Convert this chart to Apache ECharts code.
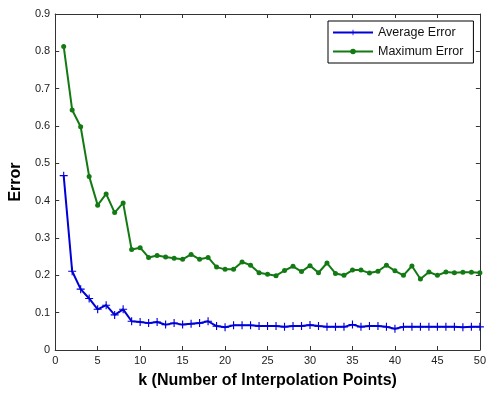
<!DOCTYPE html>
<html><head><meta charset="utf-8">
<script src="https://cdn.jsdelivr.net/npm/echarts@6/dist/echarts.min.js"></script>
<style>html,body{margin:0;padding:0;background:#fff}#c{width:489px;height:394px}</style>
</head><body><div id="c"></div>
<script>
const kValues = [1,2,3,4,5,6,7,8,9,10,11,12,13,14,15,16,17,18,19,20,21,22,23,24,25,26,27,28,29,30,31,32,33,34,35,36,37,38,39,40,41,42,43,44,45,46,47,48,49,50];
const averageError = [0.467,0.211,0.163,0.138,0.109,0.120,0.094,0.109,0.077,0.075,0.072,0.075,0.068,0.072,0.068,0.070,0.072,0.077,0.064,0.061,0.066,0.066,0.066,0.064,0.064,0.064,0.062,0.064,0.064,0.067,0.064,0.062,0.062,0.062,0.068,0.062,0.064,0.064,0.062,0.057,0.062,0.062,0.062,0.062,0.062,0.062,0.062,0.061,0.062,0.062];
const maximumError = [0.813,0.643,0.598,0.465,0.388,0.418,0.368,0.394,0.269,0.274,0.248,0.253,0.249,0.246,0.243,0.256,0.243,0.248,0.222,0.216,0.216,0.236,0.227,0.207,0.203,0.199,0.213,0.224,0.210,0.226,0.207,0.233,0.205,0.200,0.214,0.214,0.206,0.211,0.227,0.212,0.200,0.225,0.190,0.209,0.200,0.209,0.207,0.208,0.208,0.207];
const seriesNames = ['Average Error','Maximum Error'];
const xTitle = 'k (Number of Interpolation Points)';
const yTitle = 'Error';

const axisCol = '#333';
const font = 'Liberation Sans, Arial, sans-serif';
const plus = 'path://M4.3,0H5.7V4.3H10V5.7H5.7V10H4.3V5.7H0V4.3H4.3Z';

const chart = echarts.init(document.getElementById('c'));
const tickIn = {show:true, inside:true, length:4, lineStyle:{color:axisCol}};
const line = {show:true, onZero:false, lineStyle:{color:axisCol, width:1}};
chart.setOption({
  animation:false,
  backgroundColor:'#fff',
  grid:{left:55, right:7, top:14, bottom:43},
  legend:{
    orient:'vertical', left:328, top:21,
    data:seriesNames,
    itemWidth:40, itemHeight:7, itemGap:6,
    borderColor:'#000', borderWidth:1, padding:[5,10,5,4],
    textStyle:{fontSize:12.5, fontFamily:font, color:'#111'}
  },
  xAxis:[{
    type:'value', min:0, max:50, interval:5,
    name:xTitle, nameLocation:'middle', nameGap:23,
    nameTextStyle:{fontSize:16, fontWeight:'bold', fontFamily:font, color:'#000'},
    axisLine:line, axisTick:tickIn,
    axisLabel:{fontSize:11, fontFamily:font, color:'#222', margin:5},
    splitLine:{show:false}
  },{
    type:'value', min:0, max:50, interval:5, position:'top',
    axisLine:line, axisTick:tickIn,
    axisLabel:{show:false}, splitLine:{show:false}
  }],
  yAxis:[{
    type:'value', min:0, max:0.9, interval:0.1,
    name:yTitle, nameLocation:'middle', nameGap:30,
    nameTextStyle:{fontSize:16, fontWeight:'bold', fontFamily:font, color:'#000'},
    axisLine:line, axisTick:tickIn,
    axisLabel:{fontSize:11, fontFamily:font, color:'#222', margin:5},
    splitLine:{show:false}
  },{
    type:'value', min:0, max:0.9, interval:0.1, position:'right',
    axisLine:line, axisTick:tickIn,
    axisLabel:{show:false}, splitLine:{show:false}
  }],
  series:[{
    name:seriesNames[0], type:'line',
    data:kValues.map((k,i)=>[k, averageError[i]]),
    symbol:plus, symbolSize:8, showSymbol:true,
    lineStyle:{color:'#0000d8', width:2},
    itemStyle:{color:'#0000d8'}
  },{
    name:seriesNames[1], type:'line',
    data:kValues.map((k,i)=>[k, maximumError[i]]),
    symbol:'circle', symbolSize:5, showSymbol:true,
    lineStyle:{color:'#137a13', width:2},
    itemStyle:{color:'#137a13'}
  }]
});
</script></body></html>
